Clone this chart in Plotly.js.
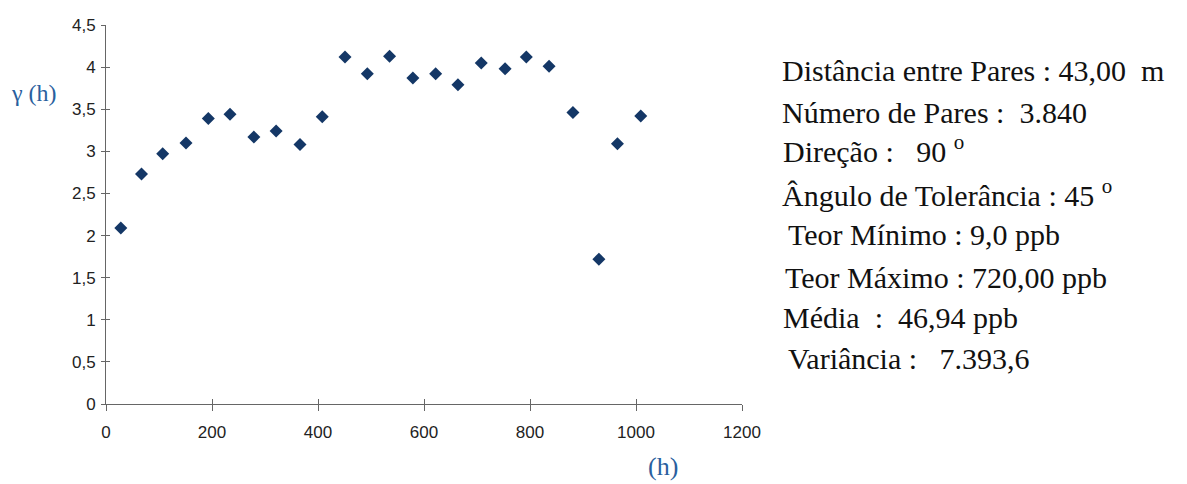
<!DOCTYPE html>
<html>
<head>
<meta charset="utf-8">
<script src="https://cdn.plot.ly/plotly-3.0.1.min.js"></script>
<style>html,body{margin:0;padding:0;background:#fff;}#chart{width:1187px;height:484px;}</style>
</head>
<body>
<div id="chart"></div>
<script>
const lagH = [28, 67, 107, 151, 193, 234, 279, 321, 366, 408, 451, 493, 535, 579, 622, 664, 708, 753, 793, 836, 881, 930, 965, 1009];
const gammaH = [2.09, 2.73, 2.97, 3.10, 3.39, 3.44, 3.17, 3.24, 3.08, 3.41, 4.12, 3.92, 4.13, 3.87, 3.92, 3.79, 4.05, 3.98, 4.12, 4.01, 3.46, 1.72, 3.09, 3.42];
const xTicks = [0, 200, 400, 600, 800, 1000, 1200];
const yTicks = [0, 0.5, 1, 1.5, 2, 2.5, 3, 3.5, 4, 4.5];
const infoLines = [
  "Distância entre Pares : 43,00\u00a0\u00a0m",
  "Número de Pares :\u00a0 3.840",
  "Direção :\u00a0\u00a0 90 <sup>o</sup>",
  "Ângulo de Tolerância : 45 <sup>o</sup>",
  "Teor Mínimo : 9,0 ppb",
  "Teor Máximo : 720,00 ppb",
  "Média\u00a0 :\u00a0 46,94 ppb",
  "Variância :\u00a0\u00a0 7.393,6"
];
const infoX = [780, 780, 781, 780, 786, 783, 781, 786];
const infoBase = [80, 122, 161, 205, 244, 287, 327, 368];

const SERIF = "'Liberation Serif', 'Times New Roman', serif";
const SANS = "'Liberation Sans', Arial, sans-serif";
const axisCommon = {
  showgrid: false, zeroline: false, showline: true,
  linecolor: '#666', linewidth: 1, tickcolor: '#666', tickwidth: 1,
};
const traces = [
  {x: lagH, y: gammaH, type: 'scatter', mode: 'markers',
   marker: {symbol: 'diamond', size: 10, color: '#143766'}, hoverinfo: 'x+y', showlegend: false},
  {x: [0], y: [0], xaxis: 'x2', yaxis: 'y2', type: 'scatter', mode: 'markers',
   marker: {opacity: 0}, hoverinfo: 'skip', showlegend: false}
];
const W = 1187, H = 484;
const annotations = infoLines.map((t, i) => ({
  text: t, xref: 'paper', yref: 'paper', showarrow: false,
  x: (infoX[i] - 106) / 636, y: (404 - infoBase[i] - 9) / 379,
  xanchor: 'left', yanchor: 'bottom', align: 'left',
  font: {family: SERIF, size: 30, color: '#111'}
}));
annotations.push({
  text: 'γ (h)', xref: 'paper', yref: 'paper', showarrow: false,
  x: (9 - 106) / 636, y: (404 - 93) / 379, xanchor: 'left', yanchor: 'middle',
  font: {family: SERIF, size: 24, color: '#2a5f9e'}
});
annotations.push({
  text: '(h)', xref: 'paper', yref: 'paper', showarrow: false, borderpad: 0,
  x: (663 - 106) / 636, y: (404 - 466) / 379, xanchor: 'center', yanchor: 'middle',
  font: {family: SERIF, size: 26, color: '#2a5f9e'}
});
const layout = {
  width: W, height: H,
  margin: {l: 106, r: 445, t: 25, b: 80, pad: 0},
  paper_bgcolor: '#fff', plot_bgcolor: '#fff',
  separators: ',.',
  showlegend: false,
  font: {family: SANS, size: 17, color: '#222'},
  xaxis: Object.assign({}, axisCommon, {range: [0, 1200], tickvals: xTicks, ticks: 'outside', ticklen: 6,
    ticklabelstandoff: 7, tickfont: {family: SANS, size: 17, color: '#222'}}),
  yaxis: Object.assign({}, axisCommon, {range: [0, 4.5], tickvals: yTicks, ticks: 'outside', ticklen: 4,
    ticklabelstandoff: 2, tickfont: {family: SANS, size: 17, color: '#222'}}),
  xaxis2: Object.assign({}, axisCommon, {range: [0, 1200], tickvals: xTicks, ticks: 'inside', ticklen: 5,
    showticklabels: false, overlaying: 'x', side: 'bottom', anchor: 'y2'}),
  yaxis2: Object.assign({}, axisCommon, {range: [0, 4.5], tickvals: yTicks, ticks: 'inside', ticklen: 4,
    showticklabels: false, overlaying: 'y', side: 'left', anchor: 'x2'}),
  annotations: annotations
};
Plotly.newPlot('chart', traces, layout, {displayModeBar: false, staticPlot: true});
</script>
</body>
</html>
